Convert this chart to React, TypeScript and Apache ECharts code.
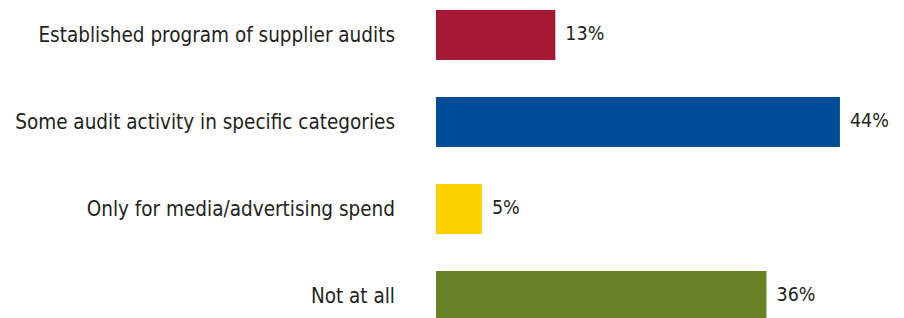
import React, { useEffect, useRef } from "react";
import * as echarts from "echarts";

const categories = [
  "Established program of supplier audits",
  "Some audit activity in specific categories",
  "Only for media/advertising spend",
  "Not at all",
];
const values = [13, 44, 5, 36];
const colors = ["#A51937", "#004C97", "#FDD100", "#678227"];

const FONT = '"Liberation Sans Narrow", "DejaVu Sans Condensed", "Roboto", sans-serif';

export default function App() {
  const ref = useRef<HTMLDivElement>(null);
  useEffect(() => {
    if (!ref.current) return;
    const chart = echarts.init(ref.current, undefined, { renderer: "svg" });
    chart.setOption({
      animation: false,
      backgroundColor: "#ffffff",
      grid: {
        left: 436,
        top: 0.5,
        width: 459,
        height: 348,
        containLabel: false,
        outerBoundsMode: "none",
      },
      xAxis: {
        type: "value",
        min: 0,
        max: 50,
        show: false,
      },
      yAxis: {
        type: "category",
        data: categories,
        inverse: true,
        axisLine: { show: false },
        axisTick: { show: false },
        splitLine: { show: false },
        axisLabel: {
          margin: 41,
          fontFamily: FONT,
          fontSize: 20.5,
          color: "#231F20",
          padding: [5, 0, 0, 0],
        },
      },
      series: [
        {
          type: "bar",
          barWidth: 50,
          data: values.map((v, i) => ({ value: v, itemStyle: { color: colors[i] } })),
          label: {
            show: true,
            position: "right",
            distance: 10,
            offset: [0, -2],
            formatter: "{c}%",
            fontFamily: FONT,
            fontSize: 19.5,
            color: "#231F20",
          },
        },
      ],
    });
    return () => chart.dispose();
  }, []);
  return (
    <div
      ref={ref}
      style={{ position: "absolute", left: 0, top: -9, width: 904, height: 360 }}
    />
  );
}
